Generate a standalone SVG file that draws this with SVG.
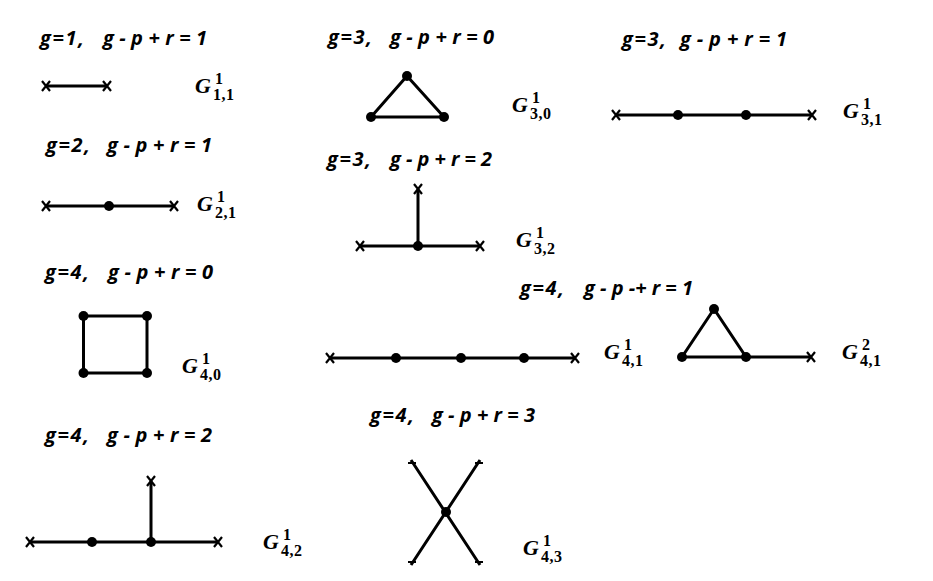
<svg xmlns="http://www.w3.org/2000/svg" width="933" height="581" viewBox="0 0 933 581">
<style>
.hd{font-family:"Open Sans",Lato,"Liberation Sans",sans-serif;font-weight:bold;font-style:italic;font-size:20px;fill:#000}
.G{font-family:"Liberation Serif","Times New Roman",serif;font-weight:bold;font-style:italic;font-size:22px;fill:#000}
.s{font-family:"Liberation Serif","Times New Roman",serif;font-weight:bold;font-size:16px;fill:#000;letter-spacing:0.5px}
.e{stroke:#000;stroke-width:3;fill:none;stroke-linecap:butt}
.x{stroke:#000;stroke-width:2.2;fill:none}
.v{fill:#000}
</style>
<defs>
<g id="xm"><path class="x" d="M-4,-5 L4,5 M-4,5 L4,-5"/></g>
<circle id="dot" r="5"/>
</defs>
<rect width="933" height="581" fill="#fff"/>

<g id="connectors">
<path class="e" d="M46,86 H107"/>
<path class="e" d="M407,76 L371,117 H444 Z"/>
<path class="e" d="M616,115 H812"/>
<path class="e" d="M46,206 H174"/>
<path class="e" d="M360,246 H480 M418,246 V189"/>
<path class="e" d="M83.5,316 H147 V373 H83.5 Z"/>
<path class="e" d="M330,358 H575"/>
<path class="e" d="M714,309 L682,357 H746 Z M746,357 H811"/>
<path class="e" d="M30,542 H218 M151,542 V481"/>
<path class="e" d="M411,460 L480,565 M480,460 L411,565"/>
</g>

<g id="G11">
<text class="hd" x="40" y="45" textLength="44">g=1,</text>
<text class="hd" x="103" y="45" textLength="104" xml:space="preserve">g - p + r = 1</text>
<use href="#xm" x="46" y="86"/><use href="#xm" x="107" y="86"/>
<text class="G" x="195" y="93">G</text><text class="s" x="215" y="84">1</text><text class="s" x="213" y="100">1,1</text>
</g>

<g id="G30">
<text class="hd" x="328" y="44" textLength="44">g=3,</text>
<text class="hd" x="390" y="44" textLength="104" xml:space="preserve">g - p + r = 0</text>
<g class="v"><use href="#dot" x="407" y="76"/><use href="#dot" x="371" y="117"/><use href="#dot" x="444" y="117"/></g>
<text class="G" x="512" y="112">G</text><text class="s" x="532" y="103">1</text><text class="s" x="530" y="119">3,0</text>
</g>

<g id="G31">
<text class="hd" x="622" y="46" textLength="44">g=3,</text>
<text class="hd" x="680" y="46" textLength="107" xml:space="preserve">g - p + r = 1</text>
<use href="#xm" x="616" y="115"/><use href="#xm" x="812" y="115"/>
<g class="v"><use href="#dot" x="678" y="115"/><use href="#dot" x="746" y="115"/></g>
<text class="G" x="843" y="118">G</text><text class="s" x="863" y="109">1</text><text class="s" x="861" y="125">3,1</text>
</g>

<g id="G21">
<text class="hd" x="46" y="152" textLength="44">g=2,</text>
<text class="hd" x="107" y="152" textLength="105" xml:space="preserve">g - p + r = 1</text>
<use href="#xm" x="46" y="206"/><use href="#xm" x="174" y="206"/>
<g class="v"><use href="#dot" x="109" y="206"/></g>
<text class="G" x="197" y="211">G</text><text class="s" x="217" y="202">1</text><text class="s" x="215" y="218">2,1</text>
</g>

<g id="G32">
<text class="hd" x="327" y="166" textLength="44">g=3,</text>
<text class="hd" x="390" y="166" textLength="102" xml:space="preserve">g - p + r = 2</text>
<use href="#xm" x="360" y="246"/><use href="#xm" x="480" y="246"/><use href="#xm" x="418" y="189"/>
<g class="v"><use href="#dot" x="418" y="246"/></g>
<text class="G" x="516" y="247">G</text><text class="s" x="536" y="238">1</text><text class="s" x="534" y="254">3,2</text>
</g>

<g id="G40">
<text class="hd" x="45" y="279" textLength="44">g=4,</text>
<text class="hd" x="108" y="279" textLength="105" xml:space="preserve">g - p + r = 0</text>
<g class="v"><use href="#dot" x="83.5" y="316"/><use href="#dot" x="147" y="316"/><use href="#dot" x="83.5" y="373"/><use href="#dot" x="147" y="373"/></g>
<text class="G" x="182" y="373">G</text><text class="s" x="202" y="364">1</text><text class="s" x="200" y="380">4,0</text>
</g>

<g id="G41">
<text class="hd" x="520" y="295" textLength="44">g=4,</text>
<text class="hd" x="584" y="295" textLength="109" xml:space="preserve">g - p -+ r = 1</text>
<use href="#xm" x="330" y="358"/><use href="#xm" x="575" y="358"/>
<g class="v"><use href="#dot" x="396" y="358"/><use href="#dot" x="461" y="358"/><use href="#dot" x="524" y="358"/></g>
<text class="G" x="604" y="359">G</text><text class="s" x="624" y="350">1</text><text class="s" x="622" y="366">4,1</text>
</g>

<g id="G41b">
<use href="#xm" x="811" y="357"/>
<g class="v"><use href="#dot" x="714" y="309"/><use href="#dot" x="682" y="357"/><use href="#dot" x="746" y="357"/></g>
<text class="G" x="842" y="359">G</text><text class="s" x="862" y="350">2</text><text class="s" x="860" y="366">4,1</text>
</g>

<g id="G42">
<text class="hd" x="45" y="442" textLength="44">g=4,</text>
<text class="hd" x="107" y="442" textLength="105" xml:space="preserve">g - p + r = 2</text>
<use href="#xm" x="30" y="542"/><use href="#xm" x="218" y="542"/><use href="#xm" x="151" y="481"/>
<g class="v"><use href="#dot" x="92" y="542"/><use href="#dot" x="151" y="542"/></g>
<text class="G" x="263" y="549">G</text><text class="s" x="283" y="540">1</text><text class="s" x="281" y="556">4,2</text>
</g>

<g id="G43">
<text class="hd" x="370" y="422" textLength="44">g=4,</text>
<text class="hd" x="432" y="422" textLength="103" xml:space="preserve">g - p + r = 3</text>
<path class="x" d="M408,463 H416 M475,463 H483 M408,562 H416 M475,562 H483"/>
<g class="v"><use href="#dot" x="446" y="512"/></g>
<text class="G" x="523" y="555">G</text><text class="s" x="543" y="546">1</text><text class="s" x="541" y="562">4,3</text>
</g>
</svg>
